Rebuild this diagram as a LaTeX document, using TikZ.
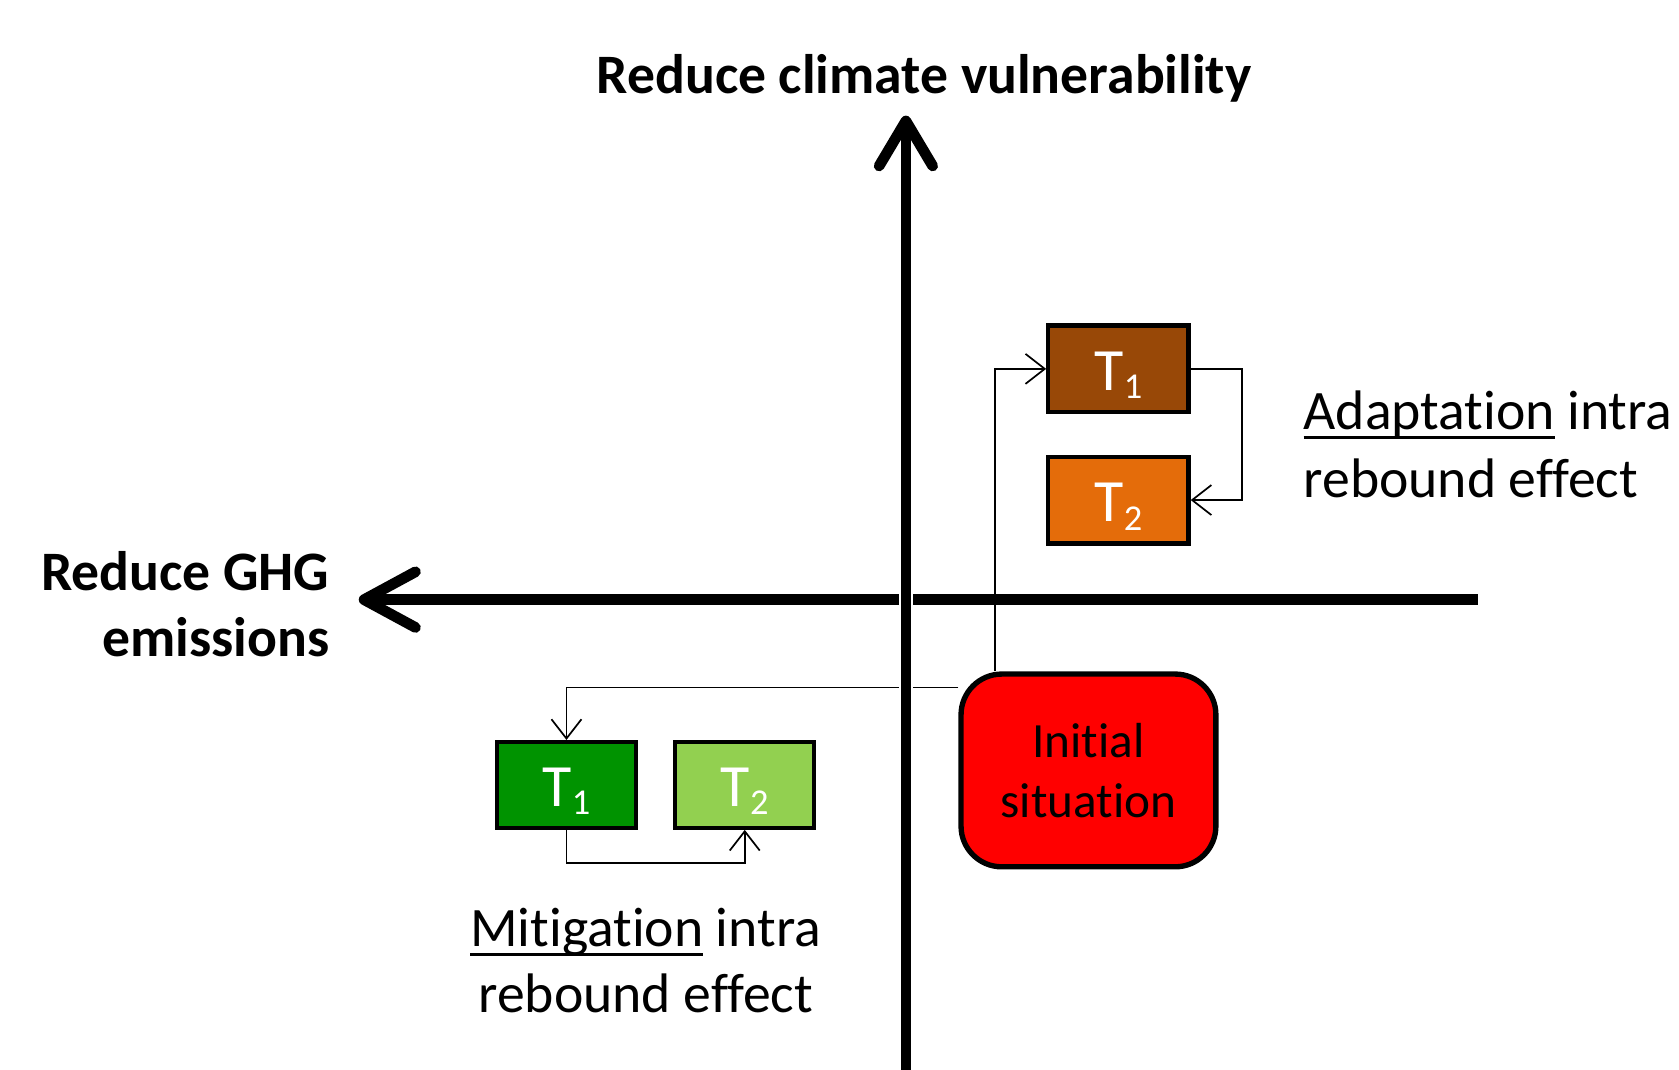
\documentclass[tikz,border=0pt]{standalone}
\usepackage{fontspec}
\setmainfont{Carlito}[Ligatures={NoCommon,NoContextual}]
\usetikzlibrary{arrows.meta}
\definecolor{brownT}{HTML}{984807}
\definecolor{orangeT}{HTML}{E46C0A}
\definecolor{dgreenT}{HTML}{009300}
\definecolor{lgreenT}{HTML}{92D050}
\definecolor{redT}{HTML}{FF0000}
\newcommand{\Tsub}[1]{\raisebox{-10pt}[0pt][0pt]{T\raisebox{-4pt}{\fontsize{17}{17}\selectfont #1}}}
\newcommand{\ulx}[1]{\setbox0\hbox{#1}\rlap{\rule[-4.3pt]{\wd0}{1.1pt}}#1}
\tikzset{
  tbox/.style={draw=black, line width=2pt, minimum width=65.5pt, minimum height=40.5pt,
    inner sep=0pt, text=white, font=\fontsize{28}{30}\selectfont},
  initbox/.style={draw=black, line width=2.5pt, fill=redT, rounded corners=19pt,
    minimum width=119pt, minimum height=90pt, align=center, inner sep=0pt,
    font=\fontsize{23}{28}\selectfont},
  conn/.style={line width=0.8pt, -{Straight Barb[length=9pt,width=14pt,line width=0.8pt]}},
  vaxis/.style={line width=5pt, -{Straight Barb[length=21pt,width=25pt,line width=5pt,round]}},
  haxis/.style={line width=5pt, -{Straight Barb[length=24pt,width=26pt,line width=5pt,round]}},
  bigbold/.style={font=\fontsize{26}{31}\selectfont\bfseries, inner sep=0pt},
  body/.style={font=\fontsize{26}{31}\selectfont, inner sep=0pt}
}
\begin{document}
\begin{tikzpicture}[x=0.5pt,y=-0.5pt]
\useasboundingbox[fill=white] (0,0) rectangle (1568,999);

% horizontal axis
\coordinate (hR) at (1380,560);
\coordinate (hL) at (335,560);
\draw[haxis] (hR) -- (hL);

% boxes
\node[tbox, fill=brownT] (aT1) at (1044.5,344.5) {\Tsub{1}};
\node[tbox, fill=orangeT] (aT2) at (1044.5,467) {\Tsub{2}};
\node[tbox, fill=dgreenT, minimum width=65pt, minimum height=40pt] (mT1) at (529,733) {\Tsub{1}};
\node[tbox, fill=lgreenT, minimum width=65pt, minimum height=40pt] (mT2) at (695.5,733) {\Tsub{2}};
\node[initbox] (init) at (1016.5,719.5) {Initial\\situation};

% connectors
\coordinate (upx) at (929,0);
\draw[conn] (init.north -| upx) |- (aT1.west);
\draw[conn] (aT1.east) -- ++(48,0) |- (aT2.east);
\draw[conn] ([yshift=-7.5pt]init.north west) -| (mT1.north);
\draw[conn] (mT1.south) -- ++(0,31) -| (mT2.south);

% vertical axis (drawn on top, with thin white edge)
\coordinate (vB) at (846,1005);
\coordinate (vT) at (846,108);
\coordinate (vX) at (846,200);
\draw[white, line width=6.6pt] (vB) -- (vX);
\draw[vaxis] (vB) -- (vT);

% labels
\node[bigbold, anchor=base] (title) at (863,87) {Reduce climate vulnerability};
\node[bigbold, anchor=base east] (ghg1) at (308,551) {Reduce GHG};
\node[bigbold, anchor=base east] (ghg2) at (308,613) {emissions};
\node[body, anchor=base west] (ad1) at (1217,401) {\ulx{Adaptation} intra};
\node[body, anchor=base west] (ad2) at (1217,465) {rebound effect};
\node[body, anchor=base] (mi1) at (603,884) {\ulx{Mitigation} intra};
\node[body, anchor=base] (mi2) at (603,946) {rebound effect};
\end{tikzpicture}
\end{document}
